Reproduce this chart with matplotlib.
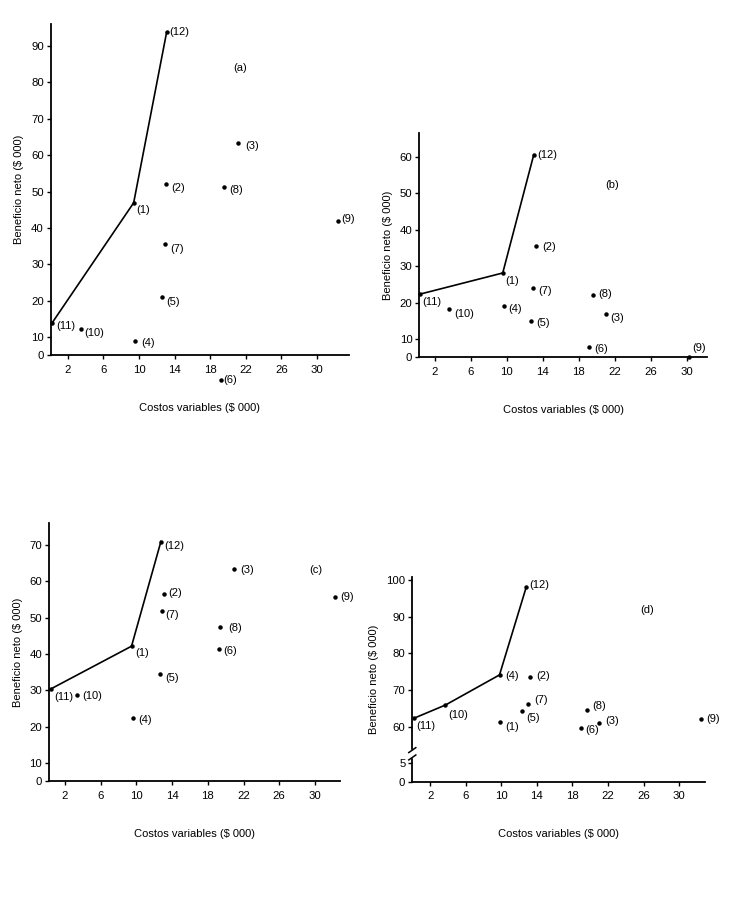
"""Beneficio neto vs costos variables, cuatro escenarios"""
import numpy as np
import matplotlib
matplotlib.use("Agg")
import matplotlib.pyplot as plt

plt.rcParams['font.family'] = ['Liberation Sans', 'DejaVu Sans']

# puntos (1) ... (12) de cada escenario
labels = ["(%d)" % i for i in range(1, 13)]

xa = [9.4, 13.05, 21.1, 9.6, 12.6, 19.2, 12.9, 19.6, 32.4, 3.45, 0.26, 13.1]
ya = [46.9, 52.0, 63.4, 7.6, 21.1, -13.4, 35.7, 51.2, 42.0, 12.3, 14.0, 93.7]

xb = [9.56, 13.3, 21.0, 9.67, 12.67, 19.1, 12.96, 19.6, 30.2, 3.63, 0.37, 13.0]
yb = [28.1, 35.4, 16.9, 19.1, 15.0, 5.8, 24.0, 22.0, 0.0, 18.3, 22.3, 60.5]

xc = [9.46, 13.05, 20.95, 9.65, 12.7, 19.2, 12.83, 19.4, 32.2, 3.39, 0.47, 12.75]
yc = [42.1, 56.5, 63.3, 22.4, 34.4, 41.2, 51.8, 47.5, 55.6, 28.6, 30.4, 70.9]

xd = [9.9, 13.2, 20.97, 9.8, 12.35, 19.0, 13.0, 19.6, 32.5, 3.73, 0.2, 12.8]
yd = [61.2, 73.6, 60.9, 74.1, 64.4, 58.1, 66.3, 64.6, 62.1, 65.9, 62.3, 98.0]

# frontera eficiente (indices de los puntos)
frontier_abc = [11, 1, 12]
frontier_d = [11, 10, 4, 12]

xticks = [2, 6, 10, 14, 18, 22, 26, 30]
yticks_a = [0, 10, 20, 30, 40, 50, 60, 70, 80, 90]
yticks_b = [0, 10, 20, 30, 40, 50, 60]
yticks_c = [0, 10, 20, 30, 40, 50, 60, 70]
yticks_d = [0, 5, 60, 70, 80, 90, 100]


# escala comprimida entre 0 y 10 (a, b, c)
def fwd_low(v):
    v = np.asarray(v, dtype=float)
    return np.where(v < 10, 5 + v / 2, v)


def inv_low(u):
    u = np.asarray(u, dtype=float)
    return np.where(u < 10, (u - 5) * 2, u)


# eje cortado entre 5 y 60 (d)
def fwd_break(v):
    v = np.asarray(v, dtype=float)
    return np.where(v <= 5, v, np.where(v < 60, 5 + (v - 5) * 10 / 55, v - 45))


def inv_break(u):
    u = np.asarray(u, dtype=float)
    return np.where(u <= 5, u, np.where(u < 15, 5 + (u - 5) * 5.5, u + 45))


# desplazamiento de las etiquetas en pixeles (dx, dy)
off_a = [(3, -7), (5, -4), (7, -3), (6, -2), (4, -5), (2, 0),
         (5, -5), (5, -3), (3, 2), (4, -4), (4, -3), (3, 0)]
off_b = [(3, -8), (6, -1), (4, -4), (5, -3), (5, -2), (6, -2),
         (5, -3), (5, 1), (4, 9), (5, -5), (2, -8), (4, 0)]
off_c = [(4, -7), (5, 1), (6, -1), (5, -2), (5, -4), (5, -2),
         (4, -4), (8, -1), (6, 0), (5, -1), (3, -8), (3, -4)]
off_d = [(5, -5), (6, 1), (6, 2), (6, -1), (4, -7), (4, -2),
         (6, 4), (6, 4), (5, 0), (3, -10), (2, -8), (3, 2)]


def panel(rect, x, y, offs, frontier, yticks, xlim, ylim, fns, tag, tagpos):
    ax = fig.add_axes(rect)
    ax.set_yscale('function', functions=fns)
    fx = [x[i - 1] for i in frontier]
    fy = [y[i - 1] for i in frontier]
    ax.plot(fx, fy, color="black", lw=1.2, clip_on=False)
    ax.plot(x, y, "o", color="black", ms=2.2, clip_on=False, zorder=3)
    for xi, yi, lab, (dx, dy) in zip(x, y, labels, offs):
        ax.annotate(lab, (xi, yi), xytext=(dx * 0.72, dy * 0.72),
                    textcoords="offset points", fontsize=8,
                    ha="left", va="center", annotation_clip=False)
    ax.text(tagpos[0], tagpos[1], tag, fontsize=8, ha="center", va="center")
    ax.set_xlim(*xlim)
    ax.set_ylim(*ylim)
    ax.set_xticks(xticks)
    ax.set_yticks(yticks)
    ax.set_yticklabels([str(t) for t in yticks])
    ax.yaxis.set_minor_locator(matplotlib.ticker.NullLocator())
    for s in ["top", "right"]:
        ax.spines[s].set_visible(False)
    for s in ["left", "bottom"]:
        ax.spines[s].set_linewidth(1.3)
    ax.tick_params(axis="both", direction="out", length=3, width=1,
                   labelsize=8.2)
    ax.tick_params(axis="x", pad=4)
    ax.tick_params(axis="y", pad=2)
    ax.set_xlabel("Costos variables ($ 000)", fontsize=8, labelpad=20)
    ax.set_ylabel("Beneficio neto ($ 000)", fontsize=8, labelpad=5)
    return ax


fig = plt.figure(figsize=(7.3, 9.21), dpi=100)

panel([0.0695, 0.6142, 0.4086, 0.3597], xa, ya, off_a, frontier_abc,
      yticks_a, (0.08, 33.6), (0, 96), (fwd_low, inv_low), "(a)", (21.4, 83.8))
panel([0.5744, 0.6121, 0.3937, 0.2432], xb, yb, off_b, frontier_abc,
      yticks_b, (0.3, 32.2), (0, 66.4), (fwd_low, inv_low), "(b)", (21.7, 52.2))
panel([0.0675, 0.1520, 0.3982, 0.2805], xc, yc, off_c, frontier_abc,
      yticks_c, (0.25, 32.8), (0, 76.1), (fwd_low, inv_low), "(c)", (30.1, 63.0))
axd = panel([0.5648, 0.1513, 0.4010, 0.2226], xd, yd, off_d, frontier_d,
            yticks_d, (0, 32.9), (0, 100.9), (fwd_break, inv_break), "(d)", (26.4, 91.8))

# marcas de corte en el eje y de (d)
yb0, yb1 = 6.6 / 55.9, 8.6 / 55.9
axd.add_patch(plt.Rectangle((-0.01, yb0), 0.02, yb1 - yb0, transform=axd.transAxes,
                            color="white", clip_on=False, zorder=5))
for y0 in (yb0, yb1):
    axd.plot([-0.012, 0.012], [y0 - 0.012, y0 + 0.012], transform=axd.transAxes,
             color="black", lw=1.1, clip_on=False, zorder=6)

fig.savefig("out.png", dpi=100, facecolor="white")
